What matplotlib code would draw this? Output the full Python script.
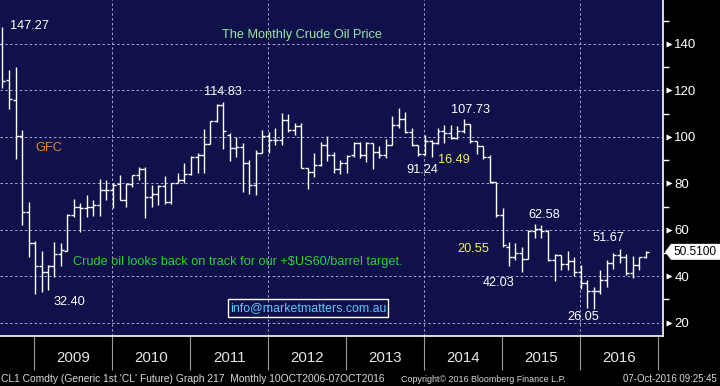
import matplotlib
matplotlib.use('Agg')
import matplotlib.pyplot as plt
import matplotlib.transforms as mtransforms
import matplotlib.dates as mdates
from matplotlib import font_manager
from matplotlib.patches import Polygon, Rectangle
import pandas as pd
import numpy as np

# ---------------- data (monthly OHLC, CL1 Comdty, Jul 2008 .. Oct 2016) ----------------
months = pd.date_range('2008-07-31', '2016-10-31', freq='ME')

opens = [140.0, 124.5, 116.0, 100.5, 67.8, 54.5,
         44.6, 41.7, 44.5, 49.5, 51.0, 66.5, 69.9, 69.6, 70.0, 70.5, 77.0, 77.3,
         79.6, 73.0, 79.7, 83.5, 86.2, 74.0, 75.6, 79.0, 72.0, 80.0, 81.4, 84.1,
         91.5, 92.2, 97.0, 106.7, 113.9, 101.0, 95.4, 95.7, 88.8, 79.2, 93.2, 100.4,
         98.8, 98.5, 107.1, 103.0, 104.9, 86.5, 85.0, 88.1, 96.5, 92.2, 86.2, 88.9,
         92.0, 97.5, 92.0, 97.2, 93.5, 92.0, 96.6, 105.0, 107.7, 102.3, 96.4, 92.7,
         98.4, 97.5, 102.6, 101.6, 99.7, 102.7, 105.4, 98.2, 96.0, 91.2, 80.5, 66.2,
         52.7, 48.2, 49.8, 47.6, 59.6, 60.3, 59.5, 47.1, 49.2, 45.1, 46.6, 41.7,
         37.0, 33.6, 33.8, 38.3, 45.9, 49.1, 48.3, 41.6, 44.7, 48.2]
highs = [147.27, 128.6, 130.0, 103.0, 72.0, 55.0,
         51.0, 44.7, 54.7, 54.4, 67.0, 73.4, 71.6, 75.0, 73.0, 82.0, 81.4, 80.0,
         83.6, 80.0, 83.6, 87.2, 87.0, 79.5, 79.2, 83.1, 80.0, 84.6, 88.6, 91.7,
         92.9, 103.2, 107.0, 114.0, 114.83, 101.5, 100.0, 97.2, 90.0, 94.3, 103.0, 102.2,
         103.7, 110.1, 110.0, 106.0, 106.0, 86.8, 92.9, 97.9, 100.4, 93.6, 90.0, 92.2,
         97.9, 97.8, 97.6, 97.5, 96.0, 99.0, 109.0, 112.3, 110.7, 103.7, 96.5, 100.8,
         98.6, 103.8, 105.2, 105.0, 104.5, 107.73, 105.5, 98.4, 96.1, 92.0, 80.7, 69.2,
         54.8, 54.2, 52.6, 59.9, 62.58, 62.0, 59.8, 49.6, 49.3, 50.9, 48.4, 44.7,
         38.4, 35.2, 42.6, 46.8, 50.2, 51.67, 49.6, 48.7, 48.4, 50.7]
lows = [121.0, 112.2, 90.5, 62.0, 48.5, 32.4,
        33.2, 34.0, 39.7, 44.5, 51.0, 65.6, 59.1, 65.6, 66.0, 66.0, 72.8, 69.5,
        72.8, 69.9, 78.5, 81.4, 64.9, 69.9, 70.6, 71.3, 71.3, 80.0, 80.0, 83.5,
        84.3, 84.3, 97.0, 106.5, 95.0, 89.7, 91.4, 76.4, 75.6, 75.0, 92.9, 93.0,
        96.5, 96.5, 102.0, 101.0, 86.4, 77.5, 82.8, 87.5, 89.6, 84.3, 84.0, 84.5,
        91.4, 90.7, 89.3, 86.0, 90.7, 91.0, 96.5, 103.7, 101.5, 96.1, 91.8, 92.0,
        91.24, 96.9, 97.4, 99.3, 99.0, 101.5, 97.2, 92.5, 90.4, 80.0, 65.7, 52.7,
        44.2, 47.2, 42.03, 47.3, 56.5, 56.5, 46.7, 37.75, 42.6, 42.6, 39.9, 34.5,
        26.2, 26.05, 32.5, 35.2, 43.0, 45.8, 40.6, 39.2, 42.5, 47.7]
closes = [124.1, 116.5, 100.6, 67.8, 54.4, 44.6,
          41.7, 44.5, 49.4, 51.1, 66.3, 69.9, 69.5, 70.0, 70.6, 77.0, 77.3, 79.4,
          72.9, 79.7, 83.4, 86.2, 74.0, 75.6, 79.0, 71.9, 80.0, 81.4, 84.1, 91.4,
          92.2, 97.0, 106.7, 113.9, 102.7, 95.4, 95.7, 88.8, 79.2, 93.2, 100.4, 98.8,
          98.5, 107.1, 103.0, 104.9, 86.5, 85.0, 88.1, 96.5, 92.2, 86.2, 88.9, 91.8,
          97.5, 92.1, 97.2, 93.5, 92.0, 96.6, 105.0, 107.7, 102.3, 96.4, 92.7, 98.4,
          97.5, 102.6, 101.6, 99.7, 102.7, 105.4, 98.2, 96.0, 91.2, 80.5, 66.2, 53.3,
          48.2, 49.8, 47.6, 59.6, 60.3, 59.5, 47.1, 49.2, 45.1, 46.6, 41.7, 37.0,
          33.6, 33.8, 38.3, 45.9, 49.1, 48.3, 41.6, 44.7, 48.2, 50.51]

year_labels = ['2009', '2010', '2011', '2012', '2013', '2014', '2015', '2016']
y_major = [20, 40, 60, 80, 100, 120, 140]
y_minor = [30, 50, 70, 90, 110, 130, 150]
last_price = 50.51
last_price_text = '50.5100'

annotations = [  # text, colour, left px, centre-y px
    ('147.27', 'white', 10, 26),
    ('114.83', 'white', 204, 92),
    ('107.73', 'white', 451, 110),
    ('91.24', 'white', 406, 170),
    ('16.49', '#f2f25a', 438, 160),
    ('62.58', 'white', 528, 215),
    ('20.55', '#f2f25a', 457, 249),
    ('42.03', 'white', 483, 283),
    ('51.67', 'white', 593, 238),
    ('26.05', 'white', 567, 317),
    ('32.40', 'white', 54, 302),
    ('GFC', '#e8883a', 35, 148),
    ('The Monthly Crude Oil Price', '#96e8a8', 222, 35),
    ('Crude oil looks back on track for our +$US60/barrel target.', '#2ad42a', 73, 262),
]
email_text = 'info@marketmatters.com.au'
footer_left = "CL1 Comdty (Generic 1st 'CL' Future) Graph 217  Monthly 10OCT2006-07OCT2016"
footer_mid = 'Copyright\u00a9 2016 Bloomberg Finance L.P.'
footer_right = '07-Oct-2016 09:25:45'

# ---------------- fonts ----------------
names = {f.name for f in font_manager.fontManager.ttflist}
main_font = 'Liberation Sans' if 'Liberation Sans' in names else 'DejaVu Sans'
narrow_font = 'Liberation Sans Narrow' if 'Liberation Sans Narrow' in names else main_font
plt.rcParams['font.family'] = [main_font, 'DejaVu Sans']

# ---------------- figure geometry ----------------
W, H = 720, 386
PLOT_R, PLOT_B = 663, 336
fig = plt.figure(figsize=(W / 100, H / 100), dpi=100, facecolor='black')
ax = fig.add_axes([0, (H - PLOT_B) / H, PLOT_R / W, PLOT_B / H])
ax.set_facecolor('#10104a')

def fx(px):
    return px / W

def fy(py):
    return 1 - py / H

# x scale: Jan-1-2009 at px 34.3, Jan-1-2017 at px 658
d09 = mdates.date2num(pd.Timestamp('2009-01-01'))
d17 = mdates.date2num(pd.Timestamp('2017-01-01'))
ppd = (658 - 34.3) / (d17 - d09)
ax.set_xlim(d09 - 34.3 / ppd, d17 + (PLOT_R - 658) / ppd)
# y scale: 140 at px 44, 20 at px 322.7
ppu = (322.7 - 44) / 120
ax.set_ylim(140 - (PLOT_B - 44) / ppu, 140 + 44 / ppu)

# ---------------- bars ----------------
xb = mdates.date2num(months) + 5
tick = 14  # days
o = np.array(opens); h = np.array(highs); l = np.array(lows); c = np.array(closes)
ax.vlines(xb, l, h, color='white', lw=1.0, zorder=3)
ax.hlines(o, xb - tick, xb, color='white', lw=1.0, zorder=3)
ax.hlines(c, xb, xb + tick, color='white', lw=1.0, zorder=3)

# ---------------- grid ----------------
grid_kw = dict(color='#a6a6d2', lw=0.7, ls=(0, (2.5, 2.5)), zorder=1)
for v in y_major:
    ax.axhline(v, **grid_kw)
for yr in [2010, 2012, 2014, 2016]:
    ax.axvline(mdates.date2num(pd.Timestamp(f'{yr}-01-01')), **grid_kw)

for s in ['left', 'top']:
    ax.spines[s].set_visible(False)
for s in ['bottom', 'right']:
    ax.spines[s].set_color('white')
    ax.spines[s].set_linewidth(1.2)

ax.set_xticks([])
ax.yaxis.tick_right()
ax.set_yticks(y_major)
ax.set_yticklabels([str(v) for v in y_major])
ax.set_yticks(y_minor, minor=True)
ax.tick_params(axis='y', which='major', length=0, pad=8.2, labelcolor='white',
               labelsize=9.5)
ax.tick_params(axis='y', which='minor', length=4, width=1, color='white', direction='out')
for t in ax.get_yticklabels():
    t.set_fontfamily([narrow_font, 'DejaVu Sans'])
    t.set_fontsize(11 if narrow_font != main_font else 9.5)

trans_ay = mtransforms.blended_transform_factory(ax.transAxes, ax.transData)
ax.plot([1 + 5.5 / PLOT_R] * len(y_major), y_major, ls='none', marker='>', ms=4.6,
        color='white', mec='none', transform=trans_ay, clip_on=False, zorder=5)

# ---------------- year axis below ----------------
trans_xa = mtransforms.blended_transform_factory(ax.transData, ax.transAxes)
bounds = [mdates.date2num(pd.Timestamp(f'{y}-01-01')) for y in range(2009, 2018)]
ax.vlines(bounds, 0, -(370 - PLOT_B) / PLOT_B, color='#9a9a9a', lw=0.8,
          transform=trans_xa, clip_on=False)
for i, lab in enumerate(year_labels):
    xm = (bounds[i] + bounds[i + 1]) / 2
    ax.text(xm, -(357.5 - PLOT_B) / PLOT_B, lab, transform=trans_xa, ha='center',
            va='center', color='#e6e6e6',
            fontsize=13 if narrow_font != main_font else 10.8,
            family=[narrow_font, 'DejaVu Sans'])

# ---------------- annotations ----------------
for txt, col, x0, yc in annotations:
    fig.text(fx(x0), fy(yc), txt, color=col, fontsize=9.2, ha='left', va='center')

# email box
fig.patches.append(Rectangle((fx(228), fy(317)), fx(388) - fx(228), fy(299) - fy(317),
                             transform=fig.transFigure, fill=False, ec='white', lw=1.0))
fig.text(fx(308), fy(308), email_text, color='#5cc8f8', fontsize=8.9, ha='center',
         va='center')

# price tag
yd = ax.transData.transform((0, last_price))[1]
ypx = H - yd
tag = [(665, ypx), (671, ypx - 8), (720, ypx - 8), (720, ypx + 8), (671, ypx + 8)]
fig.patches.append(Polygon([(fx(a), fy(b)) for a, b in tag], closed=True,
                           transform=fig.transFigure, fc='white', ec='none'))
fig.text(fx(673), fy(ypx), last_price_text, color='black', fontsize=8.6, ha='left',
         va='center', family=[narrow_font, 'DejaVu Sans'])

# footer
renderer = fig.canvas.get_renderer()
def fit(txt, x0, x1, yc, ha):
    t = fig.text(fx(x0 if ha == 'left' else x1), fy(yc), txt, color='#d8d8d8',
                 fontsize=8, ha=ha, va='center', family=[narrow_font, 'DejaVu Sans'])
    w = t.get_window_extent(renderer).width
    t.set_fontsize(8 * (x1 - x0) / w)
    return t

fit(footer_left, 1, 388, 379, 'left')
fit(footer_mid, 401, 566, 379, 'left')
fit(footer_right, 623, 717, 379, 'right')

fig.savefig('out.png', dpi=100, facecolor='black')
